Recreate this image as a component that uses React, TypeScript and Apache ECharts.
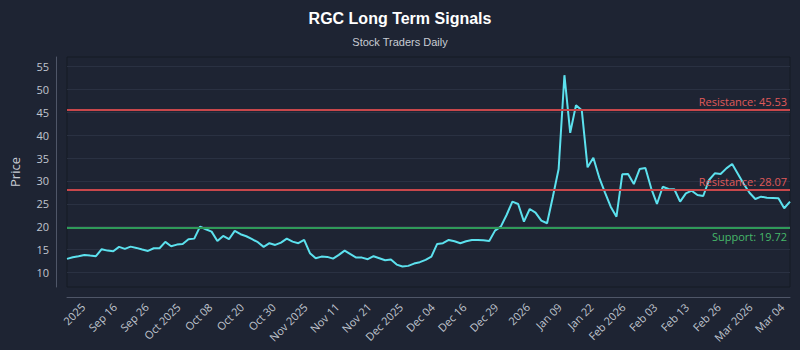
import React, { useEffect, useRef } from "react";
import * as echarts from "echarts";

// Daily closing prices, oldest first
const prices: number[] = [
  12.95, 13.3, 13.54, 13.82, 13.67, 13.54, 15.07, 14.76, 14.63, 15.57,
  15.13, 15.63, 15.35, 15.0, 14.69, 15.28, 15.28, 16.66, 15.72, 16.07,
  16.22, 17.25, 17.38, 20.0, 19.43, 18.91, 16.88, 17.97, 17.25, 19.06,
  18.34, 17.9, 17.25, 16.59, 15.57, 16.38, 16.0, 16.51, 17.38, 16.72,
  16.38, 17.1, 14.19, 13.1, 13.45, 13.38, 13.01, 13.82, 14.76, 13.97,
  13.23, 13.23, 12.88, 13.54, 13.1, 12.66, 12.79, 11.7, 11.27, 11.42,
  11.92, 12.23, 12.73, 13.45, 16.22, 16.38, 17.1, 16.8, 16.38, 16.8,
  17.1, 17.1, 17.0, 16.88, 19.13, 20.0, 22.55, 25.46, 24.96, 21.09,
  23.86, 23.06, 21.31, 20.74, 26.55, 32.6, 53.12, 40.52, 46.57, 45.48,
  32.97, 35.07, 30.79, 27.5, 24.37, 22.18, 31.44, 31.5, 29.32, 32.6,
  32.82, 28.38, 24.96, 28.73, 28.23, 28.17, 25.46, 27.29, 27.86, 26.92,
  26.7, 30.2, 31.66, 31.51, 32.75, 33.69, 31.5, 29.32, 27.42, 26.05,
  26.55, 26.33, 26.27, 26.2, 24.02, 25.46,
];

// X-axis tick labels, evenly spaced along the axis
const tickLabels: string[] = [
  "2025", "Sep 16", "Sep 26", "Oct 2025", "Oct 08", "Oct 20", "Oct 30",
  "Nov 2025", "Nov 11", "Nov 21", "Dec 2025", "Dec 04", "Dec 16", "Dec 29",
  "2026", "Jan 09", "Jan 22", "Feb 2026", "Feb 03", "Feb 13", "Feb 26",
  "Mar 2026", "Mar 04",
];

const resistanceLevels: number[] = [45.53, 28.07];
const supportLevels: number[] = [19.72];

// categories of the price series: one per trading session
const sessions: string[] = prices.map((_, i) => String(i + 1));

// label axis: slots, a label every STEP slots starting at FIRST
const SLOT_COUNT = 92;
const FIRST = 2;
const STEP = 4;
const labelSlots: string[] = Array.from({ length: SLOT_COUNT }, (_, j) =>
  j >= FIRST && (j - FIRST) % STEP === 0 ? tickLabels[(j - FIRST) / STEP] ?? "" : ""
);

const FONT = "Open Sans";

export default function App() {
  const ref = useRef<HTMLDivElement>(null);
  useEffect(() => {
    if (!ref.current) return;
    const chart = echarts.init(ref.current, null, { renderer: "svg" });
    const markData: any[] = [
      ...resistanceLevels.map((v) => ({
        yAxis: v,
        lineStyle: { color: "#c8474b", width: 2, type: "solid" },
        label: {
          formatter: `Resistance: ${v.toFixed(2)}`,
          position: "insideEndTop",
          color: "#e05a5a",
          fontSize: 11,
          fontFamily: FONT,
          distance: 3,
        },
      })),
      ...supportLevels.map((v) => ({
        yAxis: v,
        lineStyle: { color: "#2f9a59", width: 2, type: "solid" },
        label: {
          formatter: `Support: ${v.toFixed(2)}`,
          position: "insideEndBottom",
          color: "#46b86a",
          fontSize: 11,
          fontFamily: FONT,
          distance: 3,
        },
      })),
    ];
    chart.setOption({
      animation: false,
      backgroundColor: "#1e2433",
      title: {
        text: "RGC Long Term Signals",
        subtext: "Stock Traders Daily",
        left: "center",
        top: 5,
        itemGap: 10,
        textStyle: {
          color: "#ffffff",
          fontSize: 16,
          fontWeight: "bold",
          fontFamily: "Liberation Sans",
        },
        subtextStyle: {
          color: "#c8ccd4",
          fontSize: 11,
          fontFamily: "Liberation Sans",
        },
      },
      grid: {
        left: 61,
        right: 10,
        top: 57,
        bottom: 63,
        show: true,
        borderColor: "#151a25",
        borderWidth: 1,
        backgroundColor: "transparent",
      },
      xAxis: [
        {
          type: "category",
          data: sessions,
          boundaryGap: false,
          show: false,
        },
        {
          type: "category",
          data: labelSlots,
          boundaryGap: false,
          position: "bottom",
          offset: 10,
          axisLine: { show: true, lineStyle: { color: "#4f5668", width: 1 } },
          axisTick: { show: false },
          splitLine: { show: false },
          axisLabel: {
            interval: (i: number) => i >= FIRST && (i - FIRST) % STEP === 0,
            rotate: 45,
            color: "#c0c6d0",
            fontSize: 11,
            fontFamily: FONT,
            margin: 8,
          },
        },
      ],
      yAxis: {
        type: "value",
        min: 6.8,
        max: 57.1,
        splitNumber: 10,
        offset: 11,
        name: "Price",
        nameLocation: "middle",
        nameGap: 35,
        nameTextStyle: { color: "#c8ccd4", fontSize: 13, fontFamily: FONT },
        axisLine: { show: true, lineStyle: { color: "#4f5668", width: 1 } },
        axisTick: { show: false },
        axisLabel: {
          color: "#c0c6d0",
          fontSize: 11,
          fontFamily: FONT,
          margin: 7,
          showMinLabel: false,
          showMaxLabel: false,
        },
        splitLine: {
          show: true,
          showMinLine: false,
          showMaxLine: false,
          lineStyle: { color: "#2a3142", width: 1 },
        },
      },
      series: [
        {
          type: "line",
          xAxisIndex: 0,
          yAxisIndex: 0,
          data: prices,
          showSymbol: false,
          symbol: "none",
          lineStyle: { color: "#5ce1ee", width: 2 },
          itemStyle: { color: "#5ce1ee" },
          markLine: {
            silent: true,
            symbol: "none",
            data: markData,
          },
        },
      ],
    });
    return () => chart.dispose();
  }, []);
  return (
    <div
      ref={ref}
      style={{ position: "fixed", left: 0, top: 0, width: 800, height: 350 }}
    />
  );
}
